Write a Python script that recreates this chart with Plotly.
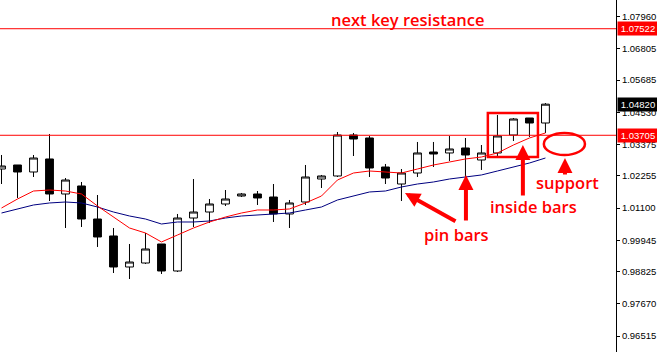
import plotly.graph_objects as go

# Candle data (index = bar number)
opens  = [1.02497, 1.02641, 1.02390, 1.02856, 1.01602, 1.01889, 1.00706, 1.00098, 0.98987, 0.99130,
          0.99811, 0.98844, 1.00742, 1.00957, 1.01244, 1.01530, 1.01602, 1.01494, 1.00886, 1.01315,
          1.02139, 1.02247, 1.03715, 1.03608, 1.02569, 1.01960, 1.02354, 1.03106, 1.03071, 1.03250,
          1.02820, 1.03071, 1.03715, 1.04324, 1.04145]
highs  = [1.02999, 1.02641, 1.02999, 1.03751, 1.02175, 1.02032, 1.01566, 1.00384, 0.99811, 1.00205,
          0.99811, 1.00886, 1.02139, 1.01423, 1.01745, 1.01638, 1.01709, 1.01960, 1.01387, 1.02641,
          1.02283, 1.03823, 1.03787, 1.03680, 1.02677, 1.02497, 1.03465, 1.03465, 1.03680, 1.03608,
          1.03357, 1.04432, 1.04324, 1.04324, 1.04860]
lows   = [1.01960, 1.01459, 1.02211, 1.01351, 1.00384, 1.00420, 0.99704, 0.98772, 0.98557, 0.99095,
          0.98736, 0.98808, 1.00420, 1.00563, 1.01172, 1.01494, 1.01208, 1.00599, 1.00384, 1.01208,
          1.01817, 1.02211, 1.02963, 1.02211, 1.01960, 1.01351, 1.02211, 1.02569, 1.02784, 1.02211,
          1.02462, 1.02927, 1.03500, 1.03644, 1.03787]
closes = [1.02605, 1.02390, 1.02891, 1.01602, 1.02103, 1.00706, 1.00062, 0.98987, 0.99166, 0.99632,
          0.98844, 1.00742, 1.00957, 1.01244, 1.01423, 1.01602, 1.01459, 1.00886, 1.01280, 1.02211,
          1.02247, 1.03715, 1.03572, 1.02533, 1.02175, 1.02354, 1.03071, 1.03035, 1.03214, 1.02999,
          1.03071, 1.03680, 1.04288, 1.04145, 1.04820]

ma_fast = [1.01100, 1.01423, 1.01709, 1.01745, 1.01709, 1.01602, 1.01172, 1.00778, 1.00384, 1.00205,
           0.99883, 1.00133, 1.00384, 1.00599, 1.00778, 1.00921, 1.01029, 1.01029, 1.01065, 1.01280,
           1.01530, 1.02103, 1.02354, 1.02426, 1.02390, 1.02354, 1.02497, 1.02641, 1.02748, 1.02856,
           1.02927, 1.03071, 1.03357, 1.03608, 1.03787]
ma_slow = [1.00921, 1.01065, 1.01208, 1.01280, 1.01315, 1.01280, 1.01136, 1.00957, 1.00814, 1.00706,
           1.00527, 1.00599, 1.00599, 1.00635, 1.00742, 1.00814, 1.00850, 1.00886, 1.00921, 1.01029,
           1.01136, 1.01387, 1.01530, 1.01674, 1.01709, 1.01853, 1.01960, 1.02032, 1.02139, 1.02211,
           1.02283, 1.02426, 1.02569, 1.02712, 1.02891]

tick_vals = [1.07960, 1.06805, 1.05685, 1.04530, 1.03375, 1.02255, 1.01100, 0.99945, 0.98825, 0.97670, 0.96515]
tick_text = ["1.07960", "1.06805", "1.05685", "1.04530", "1.03375", "1.02255", "1.01100", "0.99945",
             "0.98825", "0.97670", "0.96515"]

resistance = 1.07522
support_level = 1.03705
last_close = 1.04820

idx = list(range(len(opens)))

fig = go.Figure()
fig.add_trace(go.Scatter(x=idx, y=ma_slow, mode="lines", line=dict(color="#000080", width=1), hoverinfo="skip"))
fig.add_trace(go.Scatter(x=idx, y=ma_fast, mode="lines", line=dict(color="#ff0000", width=1), hoverinfo="skip"))
fig.add_trace(go.Candlestick(
    x=idx, open=opens, high=highs, low=lows, close=closes,
    increasing=dict(line=dict(color="black", width=1), fillcolor="white"),
    decreasing=dict(line=dict(color="black", width=1), fillcolor="black"),
    whiskerwidth=0,
))

RED = "#ff0000"
# horizontal level lines
for lvl in (resistance, support_level):
    fig.add_shape(type="line", xref="paper", x0=0, x1=1, yref="y", y0=lvl, y1=lvl,
                  line=dict(color=RED, width=1))

# rectangle around inside bars
fig.add_shape(type="rect", x0=30.4, x1=33.53, y0=1.02927, y1=1.04503,
              line=dict(color=RED, width=2.5))
# ellipse (support)
fig.add_shape(type="circle", x0=33.9, x1=36.47, y0=1.02999, y1=1.03787,
              line=dict(color=RED, width=2.5))

txt_font = dict(family="Open Sans", size=16.5, color=RED, weight=600)
fig.add_annotation(x=25.4, y=1.07835, text="next key resistance", showarrow=False, font=txt_font)
fig.add_annotation(x=35.4, y=1.01996, text="support", showarrow=False, font=txt_font)
fig.add_annotation(x=33.28, y=1.01172, text="inside bars", showarrow=False, font=txt_font)
fig.add_annotation(x=28.47, y=1.00169, text="pin bars", showarrow=False, font=txt_font)

arrow_common = dict(showarrow=True, arrowhead=2, arrowsize=0.75, arrowwidth=4, arrowcolor=RED, text="", standoff=0)
fig.add_annotation(x=25.22, y=1.01638, ax=52, ay=29, **arrow_common)
fig.add_annotation(x=29.03, y=1.02283, ax=0, ay=47, **arrow_common)
fig.add_annotation(x=32.59, y=1.03357, ax=0, ay=52, **arrow_common)
fig.add_annotation(x=35.22, y=1.02891, ax=0, ay=18, **arrow_common)

# price labels on the axis
lab_font = dict(family="Liberation Sans", size=9.5, color="white")
for val, bg in ((resistance, RED), (last_close, "black"), (support_level, RED)):
    fig.add_annotation(xref="paper", x=1, xanchor="left", xshift=1, y=val, yref="y",
                       text=f"{val:.5f}", showarrow=False, font=lab_font, bgcolor=bg,
                       width=38, height=11, borderpad=1)

fig.update_layout(
    width=657, height=352,
    margin=dict(l=0, r=41, t=0, b=0),
    paper_bgcolor="white", plot_bgcolor="white",
    showlegend=False,
    xaxis=dict(range=[-0.094, 38.41], showgrid=False, zeroline=False, showticklabels=False,
               ticks="", rangeslider=dict(visible=False), showline=False, fixedrange=True),
    yaxis=dict(range=[0.95942, 1.08551], side="right", showgrid=False, zeroline=False,
               tickvals=tick_vals, ticktext=tick_text, ticks="outside", ticklen=3, tickcolor="black",
               showline=True, linecolor="black", linewidth=1,
               tickfont=dict(family="Liberation Sans", size=9.5, color="black")),
)

fig.write_html("out.html")
